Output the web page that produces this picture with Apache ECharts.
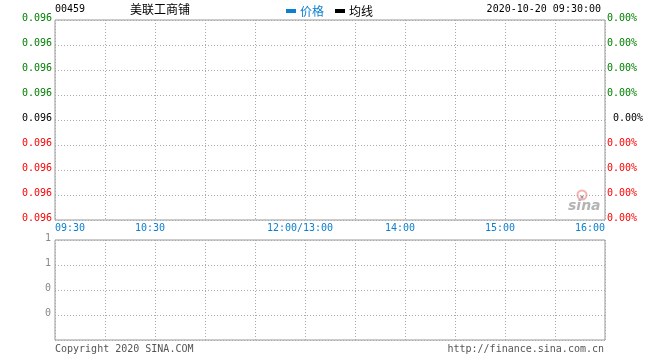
<!DOCTYPE html>
<html><head><meta charset="utf-8">
<script src="https://cdn.jsdelivr.net/npm/echarts@6/dist/echarts.min.js"></script>
<style>html,body{margin:0;padding:0;background:#fff}#c{width:660px;height:360px}</style>
</head><body><div id="c"></div>
<script>
// ---- data ----
var stockCode = '00459';
var stockName = '美联工商铺';
var timestamp = '2020-10-20 09:30:00';
var seriesNames = ['价格', '均线'];
var priceValues = [];   // [minute, price] – no trades shown
var avgValues = [];     // [minute, avg]
var timeTickMinutes = [0, 60, 150, 210, 270, 330];
var timeTickLabels = ['09:30', '10:30', '12:00/13:00', '14:00', '15:00', '16:00'];
var priceTickLabels = ['0.096','0.096','0.096','0.096','0.096','0.096','0.096','0.096','0.096']; // bottom→top
var pctTickLabels = ['0.00%','0.00%','0.00%','0.00%','0.00%','0.00%','0.00%','0.00%','0.00%'];
var volTickLabels = ['', '0', '0', '1', '1']; // bottom→top

var MONO = '"DejaVu Sans Mono", "Liberation Mono", monospace';
var CJK = '"Noto Sans CJK SC", sans-serif';
var GREEN = '#008000', RED = '#ff0000', BLACK = '#000000', BLUE = '#0b7fd0';
function tone(i) { return i < 4 ? 'r' : (i === 4 ? 'k' : 'g'); }

var chart = echarts.init(document.getElementById('c'), null, {renderer: 'canvas'});
var splitDot = {show: true, lineStyle: {color: '#aaaaaa', type: [1, 2], width: 1}};
chart.setOption({
  animation: false,
  backgroundColor: '#ffffff',
  textStyle: {fontFamily: MONO},
  legend: {
    left: 281, top: 0, itemWidth: 10, itemHeight: 4, itemGap: 11, icon: 'rect',
    textStyle: {fontFamily: CJK, fontSize: 12, color: '#000', padding: [0,0,0,-1]},
    data: [{name: seriesNames[0], textStyle: {color: BLUE}}, {name: seriesNames[1]}]
  },
  grid: [
    {left: 55, top: 20, width: 550, height: 200, show: true, borderColor: '#999999', borderWidth: 1},
    {left: 55, top: 240, width: 550, height: 100, show: true, borderColor: '#999999', borderWidth: 1}
  ],
  xAxis: [
    {type: 'value', gridIndex: 0, min: 0, max: 330, interval: 30,
     axisLine: {show: false}, axisTick: {show: false}, splitLine: splitDot,
     axisLabel: {
       margin: 3, fontFamily: MONO, fontSize: 10, color: BLUE,
       alignMinLabel: 'left', alignMaxLabel: 'right',
       formatter: function (v) {
         var i = timeTickMinutes.indexOf(v);
         if (i < 0) return '';
         if (i === 0 || i === timeTickMinutes.length - 1) return timeTickLabels[i];
         return '{c|' + timeTickLabels[i] + '}';
       },
       rich: {c: {fontFamily: MONO, fontSize: 10, color: BLUE, padding: [0, 10, 0, 0]}}
     }},
    {type: 'value', gridIndex: 1, min: 0, max: 330, interval: 30,
     axisLine: {show: false}, axisTick: {show: false}, axisLabel: {show: false}, splitLine: splitDot}
  ],
  yAxis: [
    {type: 'value', gridIndex: 0, min: 0, max: 8, interval: 1, position: 'left',
     axisLine: {show: false}, axisTick: {show: false}, splitLine: splitDot,
     axisLabel: {
       margin: 3, fontFamily: MONO, fontSize: 10, padding: [0, 0, 4, 0],
       formatter: function (v, i) { return '{' + tone(v) + '|' + priceTickLabels[v] + '}'; },
       rich: {g: {color: GREEN, fontFamily: MONO, fontSize: 10},
              k: {color: BLACK, fontFamily: MONO, fontSize: 10},
              r: {color: RED, fontFamily: MONO, fontSize: 10}}
     }},
    {type: 'value', gridIndex: 0, min: 0, max: 8, interval: 1, position: 'right',
     axisLine: {show: false}, axisTick: {show: false}, splitLine: {show: false},
     axisLabel: {
       margin: 2, fontFamily: MONO, fontSize: 10, padding: [0, 0, 4, 0],
       formatter: function (v) { return '{' + tone(v) + '|' + pctTickLabels[v] + '}'; },
       rich: {g: {color: GREEN, fontFamily: MONO, fontSize: 10},
              k: {color: BLACK, fontFamily: MONO, fontSize: 10, padding: [0, 0, 0, 6]},
              r: {color: RED, fontFamily: MONO, fontSize: 10}}
     }},
    {type: 'value', gridIndex: 1, min: 0, max: 4, interval: 1, position: 'left',
     axisLine: {show: false}, axisTick: {show: false}, splitLine: splitDot,
     axisLabel: {margin: 4, fontFamily: MONO, fontSize: 10, padding: [0, 0, 4, 0],
       formatter: function (v) { return volTickLabels[v] ? '{v|' + volTickLabels[v] + '}' : ''; },
       rich: {v: {color: '#888888', fontFamily: MONO, fontSize: 10}}}}
  ],
  series: [
    {name: seriesNames[0], type: 'line', xAxisIndex: 0, yAxisIndex: 0, data: priceValues,
     showSymbol: false, itemStyle: {color: BLUE}, lineStyle: {color: BLUE, width: 1}},
    {name: seriesNames[1], type: 'line', xAxisIndex: 0, yAxisIndex: 0, data: avgValues,
     showSymbol: false, itemStyle: {color: '#000'}, lineStyle: {color: '#000', width: 1}}
  ],
  graphic: [
    {type: 'text', left: 55, top: 4, style: {text: stockCode, font: '10px ' + MONO, fill: '#000'}},
    {type: 'text', left: 130, top: 3, style: {text: stockName, font: '12px ' + CJK, fill: '#000'}},
    {type: 'text', right: 59, top: 4, style: {text: timestamp, font: '10px ' + MONO, fill: '#000'}},
    {type: 'text', left: 55, top: 344, style: {text: 'Copyright 2020 SINA.COM', font: '10px ' + MONO, fill: '#555'}},
    {type: 'text', right: 56, top: 344, style: {text: 'http://finance.sina.com.cn', font: '10px ' + MONO, fill: '#555'}},
    // sina watermark
    {type: 'circle', shape: {cx: 582, cy: 195, r: 4.5}, style: {fill: 'none', stroke: '#f6b0b0', lineWidth: 2}, silent: true},
    {type: 'circle', shape: {cx: 582, cy: 197, r: 1.5}, style: {fill: '#999'}, silent: true},
    {type: 'text', x: 568, y: 199, style: {text: 'sina', font: 'italic bold 14px "DejaVu Sans", sans-serif', fill: '#b4b4b4'}, silent: true}
  ]
});
</script></body></html>
